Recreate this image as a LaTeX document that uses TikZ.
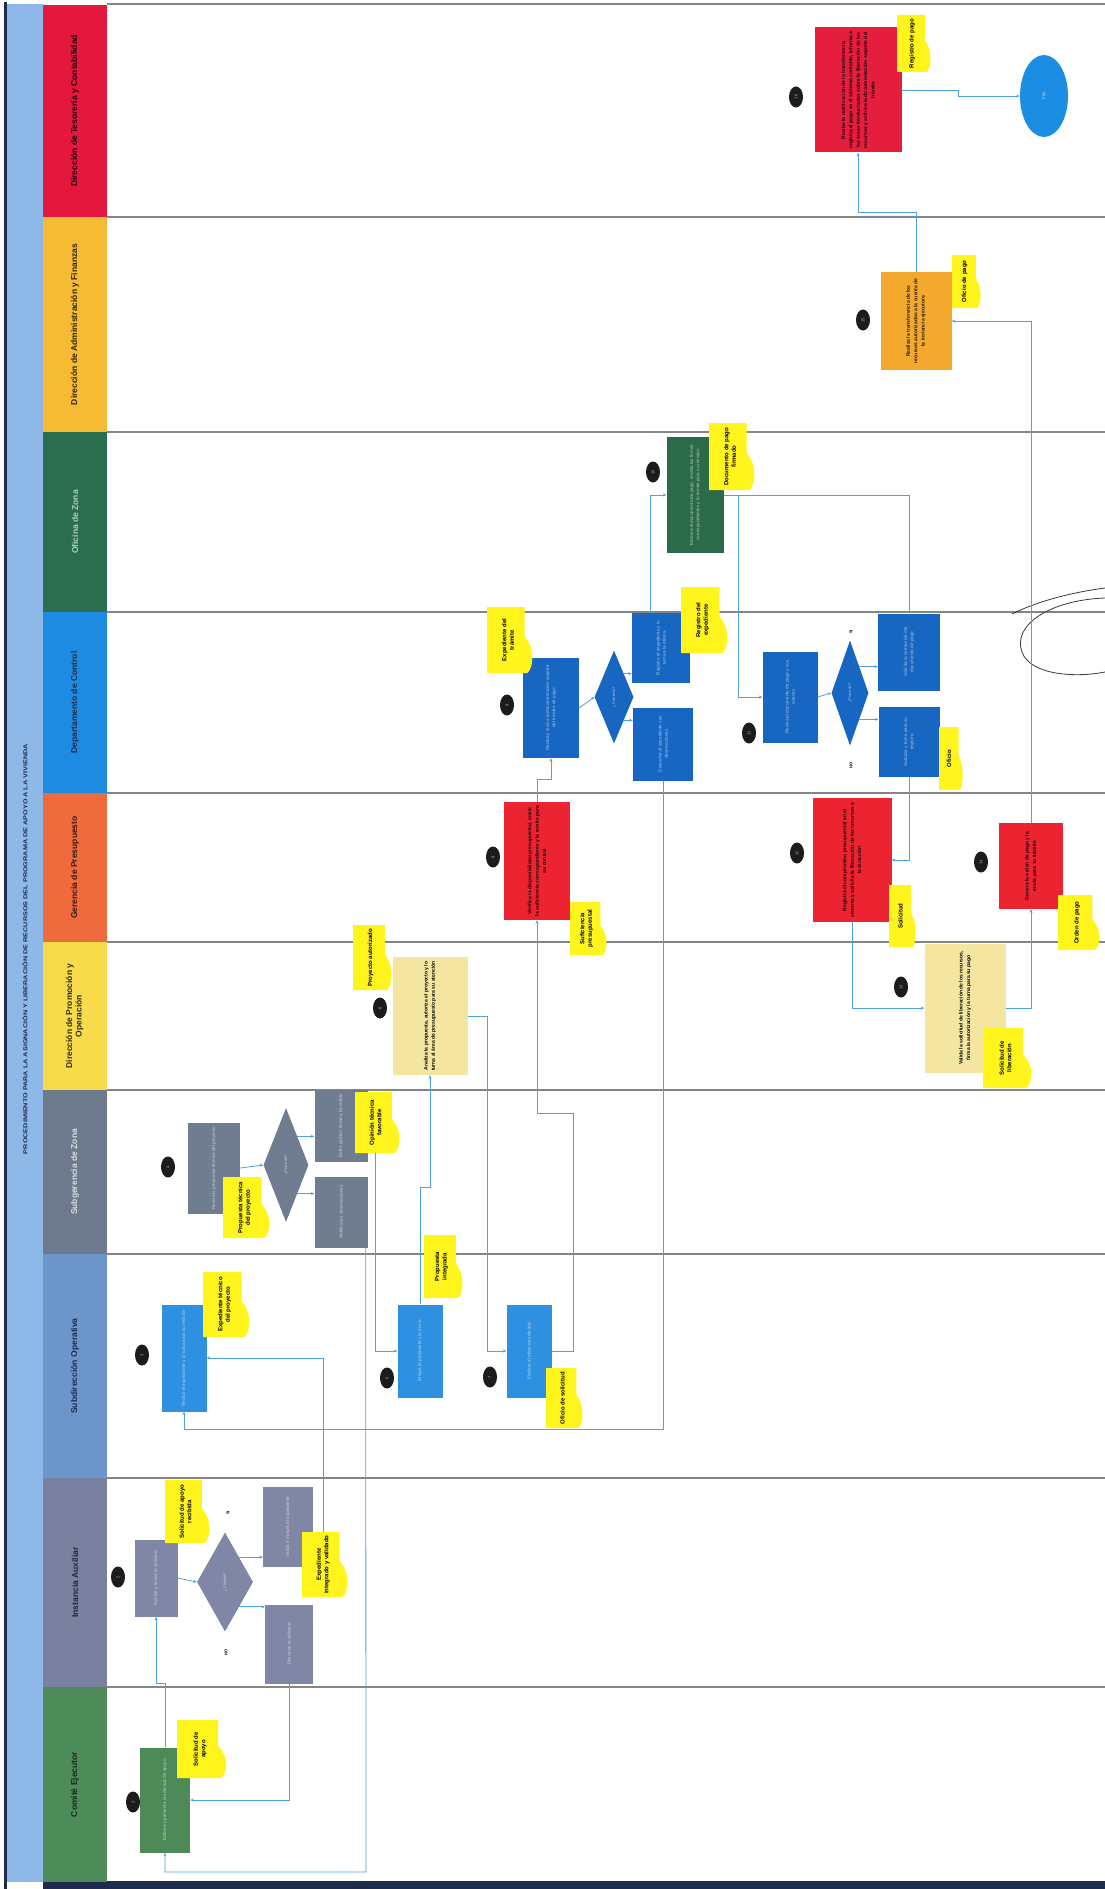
\documentclass[tikz,border=0pt]{standalone}
\usepackage{fontspec}
\setmainfont{Liberation Sans}
\usetikzlibrary{shapes.geometric,arrows.meta}
\definecolor{titleblue}{HTML}{8EB8E8}
\definecolor{navy}{HTML}{1F2B4A}
\definecolor{hA}{HTML}{E5173F}\definecolor{hB}{HTML}{F6BB35}\definecolor{hC}{HTML}{2B6E4F}
\definecolor{hD}{HTML}{1E8BE3}\definecolor{hE}{HTML}{EF6A3C}\definecolor{hF}{HTML}{F8DB4A}
\definecolor{hG}{HTML}{6D7A8E}\definecolor{hH}{HTML}{6C95CC}\definecolor{hI}{HTML}{7A80A0}
\definecolor{hJ}{HTML}{4D8C58}
\definecolor{bred}{HTML}{E41E3C}\definecolor{borange}{HTML}{F3A92E}\definecolor{bgreen}{HTML}{2C6B4A}
\definecolor{bblue}{HTML}{1766C2}\definecolor{bredb}{HTML}{EC2330}\definecolor{bpale}{HTML}{F4E6A0}
\definecolor{bgrey}{HTML}{707C90}\definecolor{bsky}{HTML}{2E90E0}\definecolor{bpurp}{HTML}{7F86A6}
\definecolor{bgreenb}{HTML}{4D8A57}\definecolor{notey}{HTML}{FFF51C}\definecolor{endblue}{HTML}{1B8EE3}
\definecolor{linkblue}{HTML}{4FA2DA}\definecolor{lanegrey}{HTML}{858585}\definecolor{numblack}{HTML}{1C1C1C}
\definecolor{scribc}{HTML}{3A3A3A}
\tikzset{
  conn/.style={draw=linkblue, line width=0.8pt},
  arr/.style={conn, -{Stealth[length=3.5pt,width=3pt]}},
  proc/.style={rectangle, inner sep=0pt, font=\fontsize{4.6}{6.2}\selectfont},
  dec/.style={diamond, inner sep=0pt, font=\fontsize{4}{4.5}\selectfont},
  numc/.style={ellipse, fill=numblack, minimum width=14pt, minimum height=21pt, inner sep=0pt, text=white!70!black, font=\fontsize{4}{4}\selectfont},
  lanehead/.style={rectangle, inner sep=0pt, minimum width=64pt, font=\bfseries\fontsize{8.5}{9.5}\selectfont},
  laneline/.style={draw=lanegrey, line width=1.6pt},
  lbl/.style={inner sep=0pt, text=black, font=\bfseries\fontsize{4}{4}\selectfont},
  scrib/.style={draw=scribc, line width=0.8pt},
}
\newcommand\dtxt{\bfseries\fontsize{5}{7.4}\selectfont}
\newcommand\pb[8]{\node[proc, fill=#6, text=#7, minimum width=#4pt, minimum height=#5pt] (#1) at (#2,#3) {\rotatebox{90}{\parbox{\dimexpr#5pt-8pt\relax}{\centering #8}}};}
\newcommand\stick[6]{%
  \pgfmathsetmacro\stkw{#4-#2}%
  \pgfmathsetmacro\stkh{#5-#3}%
  \pgfmathsetmacro\stkt{#5-#3-6}%
  \fill[notey] (#2,#3) -- ({#4-0.18*\stkw},#3) -- ({#4-0.18*\stkw},{#3+0.45*\stkh}) .. controls ({#4+0.03*\stkw},{#3+0.6*\stkh}) and ({#4+0.03*\stkw},{#3+0.9*\stkh}) .. ({#4-0.12*\stkw},#5) -- (#2,#5) -- cycle;
  \node[inner sep=0pt, minimum width=\stkw pt, minimum height=\stkh pt, text=black, font=\bfseries\fontsize{6}{7.5}\selectfont] (#1) at ({(#2+#4)/2-2},{(#3+#5)/2}) {\rotatebox{90}{\parbox{\stkt pt}{\centering #6}}};
}
\begin{document}
\begin{tikzpicture}[x=1pt,y=-1pt]
\useasboundingbox (0,0) rectangle (1105,1889);
\fill[white] (0,0) rectangle (1105,1889);
% title strip and frame
\fill[titleblue] (7,4) rectangle (43,1882);
\fill[navy] (4,2) rectangle (7,1889);
\fill[navy] (43,1881) rectangle (1105,1889);
\node[inner sep=0pt, text=navy, font=\bfseries\fontsize{6}{6}\selectfont] (title) at (25,949) {\rotatebox{90}{\resizebox{410pt}{5pt}{PROCEDIMIENTO PARA LA ASIGNACIÓN Y LIBERACIÓN DE RECURSOS DEL PROGRAMA DE APOYO A LA VIVIENDA}}};
% lane headers
\node[lanehead, fill=hA, text=black!85!hA, minimum height=212pt] (H1) at (75,111) {\rotatebox{90}{Dirección de Tesorería y Contabilidad}};
\node[lanehead, fill=hB, text=black!80!hB, minimum height=215pt] (H2) at (75,324.5) {\rotatebox{90}{Dirección de Administración y Finanzas}};
\node[lanehead, fill=hC, text=white!65!hC, minimum height=180pt] (H3) at (75,522) {\rotatebox{90}{Oficina de Zona}};
\node[lanehead, fill=hD, text=navy, minimum height=181pt] (H4) at (75,702.5) {\rotatebox{90}{Departamento de Control}};
\node[lanehead, fill=hE, text=black!75!hE, minimum height=149pt] (H5) at (75,867.5) {\rotatebox{90}{Gerencia de Presupuesto}};
\node[lanehead, fill=hF, text=black!80!hF, minimum height=148pt] (H6) at (75,1016) {\rotatebox{90}{\begin{tabular}{@{}c@{}}Dirección de Promoción y\\Operación\end{tabular}}};
\node[lanehead, fill=hG, text=white!75!hG, minimum height=164pt] (H7) at (75,1172) {\rotatebox{90}{Subgerencia de Zona}};
\node[lanehead, fill=hH, text=navy, minimum height=224pt] (H8) at (75,1366) {\rotatebox{90}{Subdirección Operativa}};
\node[lanehead, fill=hI, text=navy!90!black, minimum height=209pt] (H9) at (75,1582.5) {\rotatebox{90}{Instancia Auxiliar}};
\node[lanehead, fill=hJ, text=black!70!hJ, minimum height=195pt] (H10) at (75,1784.5) {\rotatebox{90}{Comité Ejecutor}};
% lane separators
\foreach \yy in {4,217,432,612,793,942,1090,1254,1478,1687} \draw[laneline] (107,\yy) -- (1105,\yy);
% scribble
\draw[scrib] (1012,614) .. controls (1040,600) and (1075,592) .. (1105,588);
\draw[scrib] (1105,598) .. controls (1050,600) and (1012,625) .. (1022,652) .. controls (1030,675) and (1075,678) .. (1105,672);
% process boxes
\pb{T16}{858}{90}{87}{125}{bred}{black!85!bred}{\dtxt Recibe la notificación de la transferencia, registra el pago en el sistema contable, informa a las áreas involucradas sobre la liberación de los recursos y archiva la documentación soporte del trámite}
\node[ellipse, fill=endblue, minimum width=48pt, minimum height=82pt, inner sep=0pt, text=white!85!endblue, font=\fontsize{4}{4}\selectfont] (END) at (1044,96) {\rotatebox{90}{FIN}};
\pb{O15}{916}{321}{71}{98}{borange}{black!85!borange}{\dtxt Realiza la transferencia de los recursos autorizados a la cuenta de la instancia ejecutora}
\pb{G10}{695}{495}{57}{116}{bgreen}{white!60!bgreen}{Elabora el documento de pago, recaba las firmas correspondientes y lo remite para su revisión}
\pb{A1}{551}{708}{56}{100}{bblue}{white!60!bblue}{Recibe y revisa la documentación soporte del trámite de pago}
\node[dec, fill=bblue, text=white!60!bblue, minimum width=39pt, minimum height=93pt] (Dm1) at (614,697) {\rotatebox{90}{¿Correcto?}};
\pb{A2}{661}{648}{58}{70}{bblue}{white!60!bblue}{Registra el expediente y lo turna a la oficina}
\pb{A3}{663}{744}{60}{73}{bblue}{white!60!bblue}{Devuelve el expediente con observaciones}
\pb{C}{790}{697}{55}{91}{bblue}{white!60!bblue}{Revisa el documento de pago y sus anexos}
\node[dec, fill=bblue, text=white!60!bblue, minimum width=37pt, minimum height=105pt] (Dm2) at (850,693) {\rotatebox{90}{¿Procede?}};
\pb{D1}{909}{652}{62}{77}{bblue}{white!60!bblue}{Solicita la corrección del documento de pago}
\pb{D2}{909}{742}{61}{70}{bblue}{white!60!bblue}{Autoriza y turna para su registro}
\pb{R1}{537}{861}{66}{118}{bredb}{black!85!bredb}{\dtxt Verifica la disponibilidad presupuestal, emite la suficiencia correspondiente y la remite para su control}
\pb{R2}{852}{860}{79}{124}{bredb}{black!85!bredb}{\dtxt Registra el compromiso presupuestal en el sistema y solicita la liberación de los recursos a la dirección}
\pb{R3}{1031}{866}{64}{86}{bredb}{black!85!bredb}{\dtxt Genera la orden de pago y la envía para su trámite}
\pb{Y1}{430}{1016}{75}{118}{bpale}{black}{\dtxt Analiza la propuesta, autoriza el proyecto y lo turna al área de presupuesto para su atención}
\pb{Y2}{965}{1008}{81}{129}{bpale}{black}{\dtxt Valida la solicitud de liberación de los recursos, firma la autorización y la turna para su pago}
\pb{G1}{214}{1168}{52}{91}{bgrey}{white!60!bgrey}{Revisa la propuesta técnica del proyecto}
\node[dec, fill=bgrey, text=white!60!bgrey, minimum width=45pt, minimum height=114pt] (DmG) at (286,1165) {\rotatebox{90}{¿Procede?}};
\pb{G2}{341}{1126}{53}{72}{bgrey}{white!60!bgrey}{Emite opinión técnica favorable}
\pb{G3}{341}{1212}{53}{71}{bgrey}{white!60!bgrey}{Notifica las observaciones}
\pb{B1}{184}{1358}{45}{107}{bsky}{white!60!bsky}{Recibe el expediente y lo turna para su revisión}
\pb{B2}{420}{1351}{45}{93}{bsky}{white!60!bsky}{Integra la propuesta y la envía}
\pb{B3}{529}{1351}{45}{93}{bsky}{white!60!bsky}{Elabora el oficio de solicitud}
\pb{I1}{156}{1578}{43}{77}{bpurp}{white!60!bpurp}{Recibe y revisa la solicitud}
\node[dec, fill=bpurp, text=white!60!bpurp, minimum width=56pt, minimum height=99pt] (DmI) at (225,1582) {\rotatebox{90}{¿Cumple?}};
\pb{I2}{288}{1527}{50}{80}{bpurp}{white!60!bpurp}{Valida e integra el expediente}
\pb{I3}{289}{1644}{48}{79}{bpurp}{white!60!bpurp}{Devuelve la solicitud}
\pb{E1}{165}{1800}{50}{105}{bgreenb}{white!60!bgreenb}{Elabora y presenta la solicitud de apoyo}
% diamond labels
\node[lbl] (s2) at (851,632) {\rotatebox{90}{SI}};
\node[lbl] (n2) at (851,765) {\rotatebox{90}{NO}};
\node[lbl] (sI) at (228,1513) {\rotatebox{90}{SI}};
\node[lbl] (nI) at (226,1652) {\rotatebox{90}{NO}};
% number circles
\node[numc] (c1) at (133,1802) {\rotatebox{90}{1}};
\node[numc] (c2) at (118,1577) {\rotatebox{90}{2}};
\node[numc] (c3) at (142,1355) {\rotatebox{90}{3}};
\node[numc] (c4) at (168,1167) {\rotatebox{90}{4}};
\node[numc] (c5) at (387,1378) {\rotatebox{90}{5}};
\node[numc] (c6) at (380,1008) {\rotatebox{90}{6}};
\node[numc] (c7) at (490,1377) {\rotatebox{90}{7}};
\node[numc] (c8) at (493,857) {\rotatebox{90}{8}};
\node[numc] (c9) at (507,705) {\rotatebox{90}{9}};
\node[numc] (c10) at (653,472) {\rotatebox{90}{10}};
\node[numc] (c11) at (749,733) {\rotatebox{90}{11}};
\node[numc] (c12) at (797,853) {\rotatebox{90}{12}};
\node[numc] (c13) at (901,987) {\rotatebox{90}{13}};
\node[numc] (c14) at (981,862) {\rotatebox{90}{14}};
\node[numc] (c15) at (863,320) {\rotatebox{90}{15}};
\node[numc] (c16) at (796,97) {\rotatebox{90}{16}};
% connectors
\draw[arr] (E1.north) -- ++(0,-64) -| (I1.south);
\draw[arr] (I1.east) -- (DmI.west);
\draw[arr] (DmI.north east) -- (I2.west |- DmI.north east);
\draw[arr] (DmI.south east) -- (I3.west |- DmI.south east);
\draw[arr] (I3.south) |- (E1.east);
\draw[arr] (G1.east) -- (DmG.west);
\draw[arr] (DmG.north east) -- (G2.west |- DmG.north east);
\draw[arr] (DmG.south east) -- (G3.west |- DmG.south east);
\draw[arr] ([xshift=-2pt]G3.south east) -- (366,1872) -| (E1.south);
\draw[arr] (A1.east) -- (Dm1.west);
\draw[arr] (Dm1.north east) -- (A2.west |- Dm1.north east);
\draw[arr] (Dm1.south east) -- (A3.west |- Dm1.south east);
\draw[arr] (A3.south) -- (663,1429) -| (B1.south);
\draw[arr] (B2.north) -- ++(0,-117) -| (Y1.south);
\draw[arr] (Y1.east) -- (487,1016) |- (B3.west);
\draw[arr] (B3.east) -| (573,1113) -| (R1.south);
\draw[arr] (R1.north) -- ++(0,-22) -| (A1.south);
\draw[arr] ([xshift=-11pt]A2.north) |- (G10.west);
\draw[arr] (G10.east) -- (738,495) |- (C.west);
\draw[conn] (D1.north) |- (G10.east);
\draw[arr] (C.east) -- (Dm2.west);
\draw[arr] (Dm2.north east) -- (D1.west |- Dm2.north east);
\draw[arr] (Dm2.south east) -- (D2.west |- Dm2.south east);
\draw[arr] (D2.south) |- (R2.east);
\draw[arr] (R2.south) |- (Y2.west);
\draw[arr] (Y2.east) -| (R3.south);
\draw[arr] (R3.north) |- (O15.east);
\draw[arr] (O15.north) -- ++(0,-59) -| (T16.south);
\draw[arr] (T16.east) -- (958,90) |- (END.west);
% notes
\stick{T16n}{897}{15}{931}{72}{Registro de pago}
\stick{O15n}{952}{255}{981}{308}{Oficio de pago}
\stick{G10n}{709}{423}{755}{490}{Documento de pago firmado}
\stick{A1n}{487}{607}{533}{673}{Expediente del trámite}
\stick{A2n}{681}{587}{728}{653}{Registro del expediente}
\stick{D2n}{939}{727}{963}{790}{Oficio}
\stick{R1n}{570}{902}{607}{955}{Suficiencia presupuestal}
\stick{R2n}{889}{885}{916}{947}{Solicitud}
\stick{R3n}{1058}{895}{1100}{950}{Orden de pago}
\stick{Y1n}{353}{925}{392}{990}{Proyecto autorizado}
\stick{Y2n}{983}{1028}{1032}{1088}{Solicitud de liberación}
\stick{G1n}{223}{1177}{270}{1238}{Propuesta técnica del proyecto}
\stick{G2n}{355}{1092}{400}{1153}{Opinión técnica favorable}
\stick{B1n}{203}{1272}{250}{1337}{Expediente técnico del proyecto}
\stick{B2n}{424}{1235}{463}{1298}{Propuesta integrada}
\stick{B3n}{546}{1368}{583}{1428}{Oficio de solicitud}
\stick{I1n}{165}{1480}{210}{1543}{Solicitud de apoyo recibida}
\stick{I2n}{302}{1532}{348}{1597}{Expediente integrado y validado}
\stick{E1n}{177}{1720}{227}{1778}{Solicitud de apoyo}
\draw[arr] (I2n.north) |- (B1.east);
\draw[arr] (G2n.south) |- (B2.west);
\end{tikzpicture}
\end{document}
